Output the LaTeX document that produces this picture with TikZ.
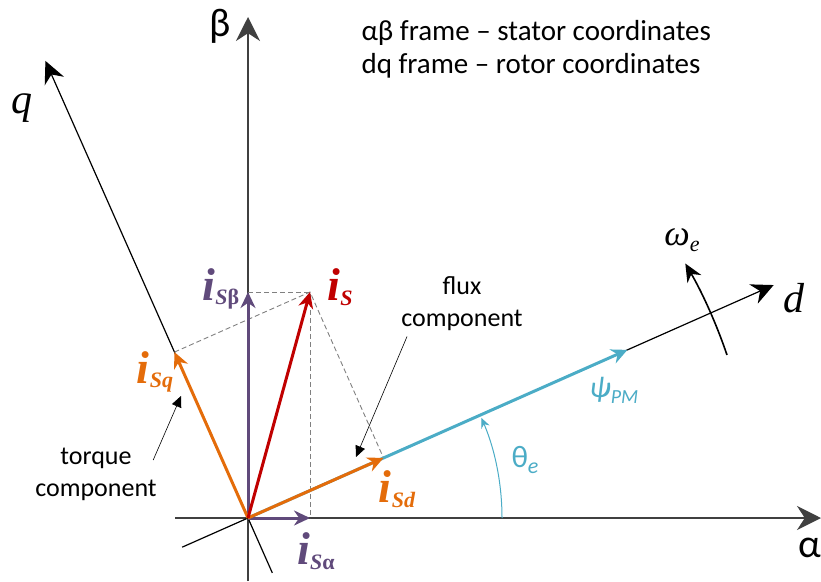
\documentclass[tikz,border=0pt]{standalone}
\usepackage{fontspec}
\setmainfont{Carlito}
\newfontfamily\timesf{Liberation Serif}
\usepackage{xcolor}
\usepackage{tikz}
\usetikzlibrary{positioning,arrows.meta,calc}
\definecolor{axisc}{HTML}{404040}
\definecolor{curS}{HTML}{C00000}
\definecolor{curab}{HTML}{604A7B}
\definecolor{curdq}{HTML}{E46C0A}
\definecolor{fluxc}{HTML}{4BACC6}
\newcommand{\curlab}[1]{{\timesf\bfseries\itshape\fontsize{46}{46}\selectfont i\raisebox{-0.22ex}{\fontsize{22}{22}\selectfont #1}}}
\tikzset{
  statax/.style={draw=axisc, line width=1.8pt, -{Stealth[length=24pt,width=24pt]}},
  rotax/.style={draw=black, line width=1.2pt, -{Stealth[length=22pt,width=21pt]}},
  vec/.style={line width=3pt, -{Stealth[length=16pt,width=15pt]}},
  proj/.style={draw=gray, line width=0.9pt, dash pattern=on 5pt off 3pt},
  note/.style={draw=black, line width=0.6pt, -{Triangle[length=11pt,width=10pt]}},
  lbl/.style={font=\fontsize{26}{32}\selectfont, align=center},
  axlbl/.style={font=\fontsize{40}{40}\selectfont},
  rotlbl/.style={font=\timesf\itshape\fontsize{42}{42}\selectfont},
}

\begin{document}
\begin{tikzpicture}[x=1pt,y=1pt]
\useasboundingbox (0,0) rectangle (821,-581);
\coordinate (O) at (248,-518);
\coordinate (atail) at (175,-518);
\coordinate (atip) at (821,-518);
\coordinate (btail) at (248,-581);
\coordinate (btip) at (248,-17);
\coordinate (dtail) at ($(O)+(203.9:72)$);
\coordinate (dtip) at ($(O)+(23.9:575)$);
\coordinate (qtail) at ($(O)+(293.9:60)$);
\coordinate (qtip) at ($(O)+(113.9:500)$);
\coordinate (psitip) at ($(O)+(23.9:415)$);
\coordinate (iS) at (310,-292);
\coordinate (iSa) at (iS |- O);
\coordinate (iSb) at (O |- iS);
\coordinate (iSd) at ($(O)!(iS)!(dtip)$);
\coordinate (iSq) at ($(O)!(iS)!(qtip)$);

% frames
\draw[statax] (atail) -- (atip);
\draw[statax] (btail) -- (btip);
\draw[rotax] (qtail) -- (qtip);
\draw[rotax] (dtail) -- (dtip);
\node[axlbl] (alab) at (810,-548) {α};
\node[axlbl] (blab) at (220,-26) {β};
\node[rotlbl] (qlab) at (22,-108) {q};
\node[rotlbl] (dlab) at (794,-298) {d};

% projections
\draw[proj] (iSb) -- (iS) -- (iSa);
\draw[proj] (iSq) -- (iS) -- (iSd);

% vectors
\draw[vec, fluxc] (O) -- (psitip);
\draw[vec, curab] (O) -- (iSa);
\draw[vec, curab] (O) -- (iSb);
\draw[vec, curdq] (O) -- (iSd);
\draw[vec, curdq] (O) -- (iSq);
\draw[vec, curS] (O) -- (iS);

\node[text=curab] (labSb) at (221,-289) {\curlab{S\textup{β}}};
\node[text=curab] (labSa) at (316,-551) {\curlab{S\textup{α}}};
\node[text=curS] (labS) at (340,-287) {\curlab{S}};
\node[text=curdq] (labSq) at (155,-372) {\curlab{Sq}};
\node[text=curdq] (labSd) at (397,-489) {\curlab{Sd}};

% angles
\draw[fluxc, line width=1pt, -{Stealth[length=10pt,width=9pt]}] ($(O)+(0:254)$) arc[start angle=0, end angle=23.2, radius=254];
\draw[line width=1.6pt, -{Stealth[length=18pt,width=16pt]}] ($(O)+(18.8:506)$) arc[start angle=18.8, end angle=30.2, radius=506];
\node[text=fluxc, font=\fontsize{31}{31}\selectfont] (theta) at (525,-460) {θ\raisebox{-0.4ex}{\fontsize{22}{22}\selectfont\textit{e}}};
\node[text=fluxc, font=\itshape\fontsize{30}{30}\selectfont] (psi) at (614,-390) {ψ\raisebox{-0.4ex}{\fontsize{20}{20}\selectfont PM}};
\node[font=\timesf\itshape\fontsize{36}{36}\selectfont] (omega) at (682,-240) {ω\raisebox{-0.4ex}{\fontsize{22}{22}\selectfont e}};

% notes
\node[lbl] (fluxnote) at (462,-304) {flux\\component};
\node[lbl] (torqnote) at (96,-474) {torque\\component};
\coordinate (fluxpt) at (356,-457);
\coordinate (torqpt) at (181,-396);
\draw[note] ($(fluxnote.south)+(-55,-2)$) -- (fluxpt);
\draw[note] ($(torqnote.east)+(-7,14)$) -- (torqpt);

\node[font=\fontsize{29}{33}\selectfont, align=left, anchor=west] (legend) at (358,-49) {αβ frame – stator coordinates\\dq frame – rotor coordinates};
\end{tikzpicture}
\end{document}
